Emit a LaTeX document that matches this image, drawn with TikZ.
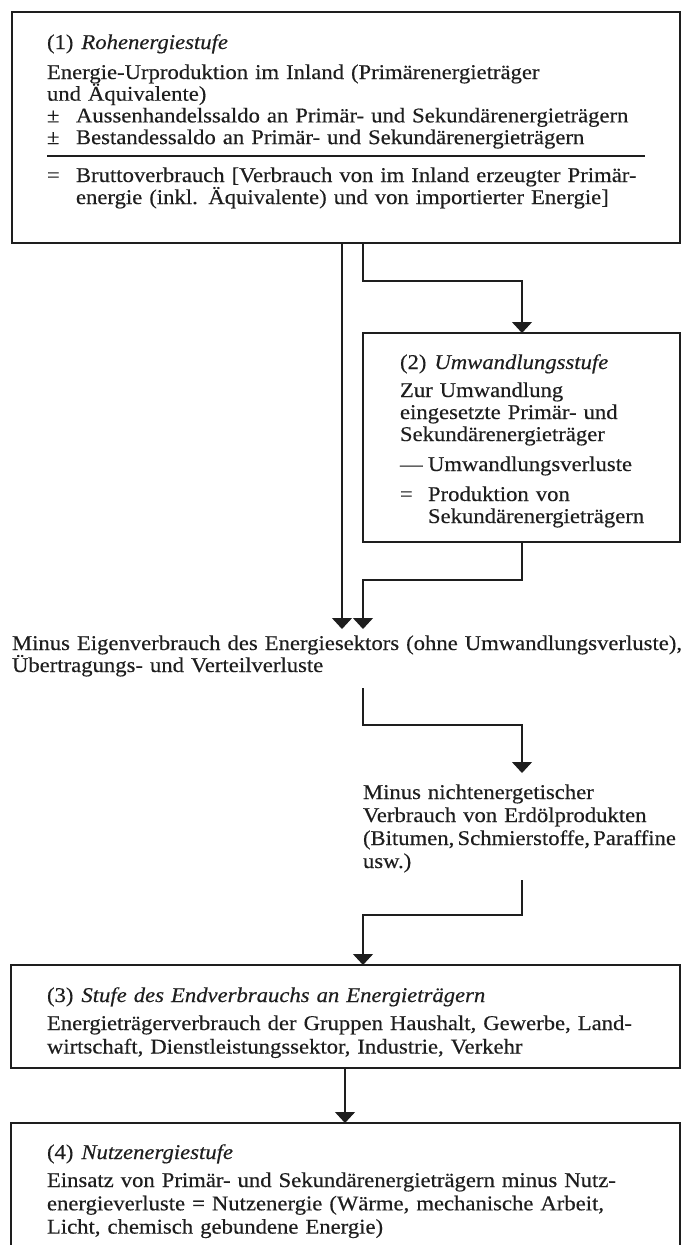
\documentclass[tikz,border=0pt]{standalone}
\usepackage{fontspec}
\setmainfont{Liberation Serif}[FakeStretch=1.08,FakeBold=0.35]
\usetikzlibrary{arrows.meta}
\definecolor{ink}{HTML}{1E1E1E}
\begin{document}
\begin{tikzpicture}[x=1pt,y=-1pt,
  box/.style={draw=ink, line width=1.3pt, inner sep=0pt, outer sep=0pt, anchor=north west},
  txt/.style={inner sep=0pt, outer sep=0pt, anchor=base west, align=left, text=ink, text width=640pt},
  fs/.style={font=\fontsize{21}{#1}\selectfont},
  conn/.style={draw=ink, line width=1.1pt},
  arr/.style={conn, -{Triangle[width=20pt,length=11pt]}}]
\useasboundingbox (0,0) rectangle (681,1245);
\clip (0,0) rectangle (681,1245);
% helper coordinates
\coordinate (xA) at (342,0);
\coordinate (xB) at (363,0);
\coordinate (xC) at (522,0);
\coordinate (xF) at (345,0);
\coordinate (tipA) at (342,629);
\coordinate (tipB) at (363,629);
\coordinate (sD) at (363,688);
\coordinate (tipD) at (522,773);
\coordinate (sE) at (522,880);
% boxes
\node[box, minimum width=668pt, minimum height=231pt] (b1) at (12,12) {};
\node[box, minimum width=317pt, minimum height=209pt] (b2) at (363,333) {};
\node[box, minimum width=669pt, minimum height=103pt] (b3) at (11,965) {};
\node[box, minimum width=669pt, minimum height=140pt] (b4) at (11,1123) {};
% box 1 text
\node[txt, fs=22] (t1h) at (47,49) {(1)\hspace{8pt}\textit{Rohenergiestufe}};
\node[txt, fs=21.7] (t1a) at (47,79) {Energie-Urproduktion im Inland (Primärenergieträger\\
und Äquivalente)\\
\makebox[29pt][l]{±}\makebox[568pt][s]{Aussenhandelssaldo an Primär- und Sekundärenergieträgern}\\
\makebox[29pt][l]{±}Bestandessaldo an Primär- und Sekundärenergieträgern};
\draw[conn] (47,156) -- (645,156);
\node[txt, fs=22] (t1b) at (47,182) {\makebox[29pt][l]{=}\makebox[568pt][s]{Bruttoverbrauch [Verbrauch von im Inland erzeugter Primär-}\\
\hspace*{29pt}energie (inkl. Äquivalente) und von importierter Energie]};
% box 2 text
\node[txt, fs=22] (t2h) at (400,369) {(2)\hspace{8pt}\textit{Umwandlungsstufe}};
\node[txt, fs=22] (t2a) at (400,397) {Zur Umwandlung\\eingesetzte Primär- und\\Sekundärenergieträger};
\node[txt, fs=22] (t2b) at (400,471) {\makebox[28pt][l]{—}Umwandlungsverluste};
\node[txt, fs=22] (t2c) at (400,501) {\makebox[28pt][l]{=}Produktion von\\\hspace*{28pt}Sekundärenergieträgern};
% middle texts
\node[txt, fs=22, text width=680pt] (m1) at (12,650) {Minus Eigenverbrauch des Energiesektors (ohne Umwandlungsverluste),\\Übertragungs- und Verteilverluste};
\node[txt, fs=23, text width=330pt] (m2) at (363,799) {Minus nichtenergetischer\\Verbrauch von Erdölprodukten\\{\spaceskip=3.2pt\relax (Bitumen, Schmierstoffe, Paraffine}\\usw.)};
% box 3 text
\node[txt, fs=22] (t3h) at (47,1002) {(3)\hspace{8pt}\textit{Stufe des Endverbrauchs an Energieträgern}};
\node[txt, fs=23.5] (t3a) at (47,1030) {\makebox[597pt][s]{Energieträgerverbrauch der Gruppen Haushalt, Gewerbe, Land-}\\wirtschaft, Dienstleistungssektor, Industrie, Verkehr};
% box 4 text
\node[txt, fs=22] (t4h) at (47,1159) {(4)\hspace{8pt}\textit{Nutzenergiestufe}};
\node[txt, fs=23.3] (t4a) at (47,1187) {\makebox[597pt][s]{Einsatz von Primär- und Sekundärenergieträgern minus Nutz-}\\
\makebox[597pt][s]{energieverluste = Nutzenergie (Wärme, mechanische Arbeit,}\\
Licht, chemisch gebundene Energie)};
% connectors
\draw[arr] (b1.south -| xA) -- (tipA);
\draw[arr] (b1.south -| xB) -- ++(0,38) -| (b2.north -| xC);
\draw[arr] (b2.south -| xC) -- ++(0,38) -| (tipB);
\draw[arr] (sD) -- ++(0,37) -| (tipD);
\draw[arr] (sE) -- ++(0,35) -| (b3.north -| xB);
\draw[arr] (b3.south -| xF) -- (b4.north -| xF);
\end{tikzpicture}
\end{document}
